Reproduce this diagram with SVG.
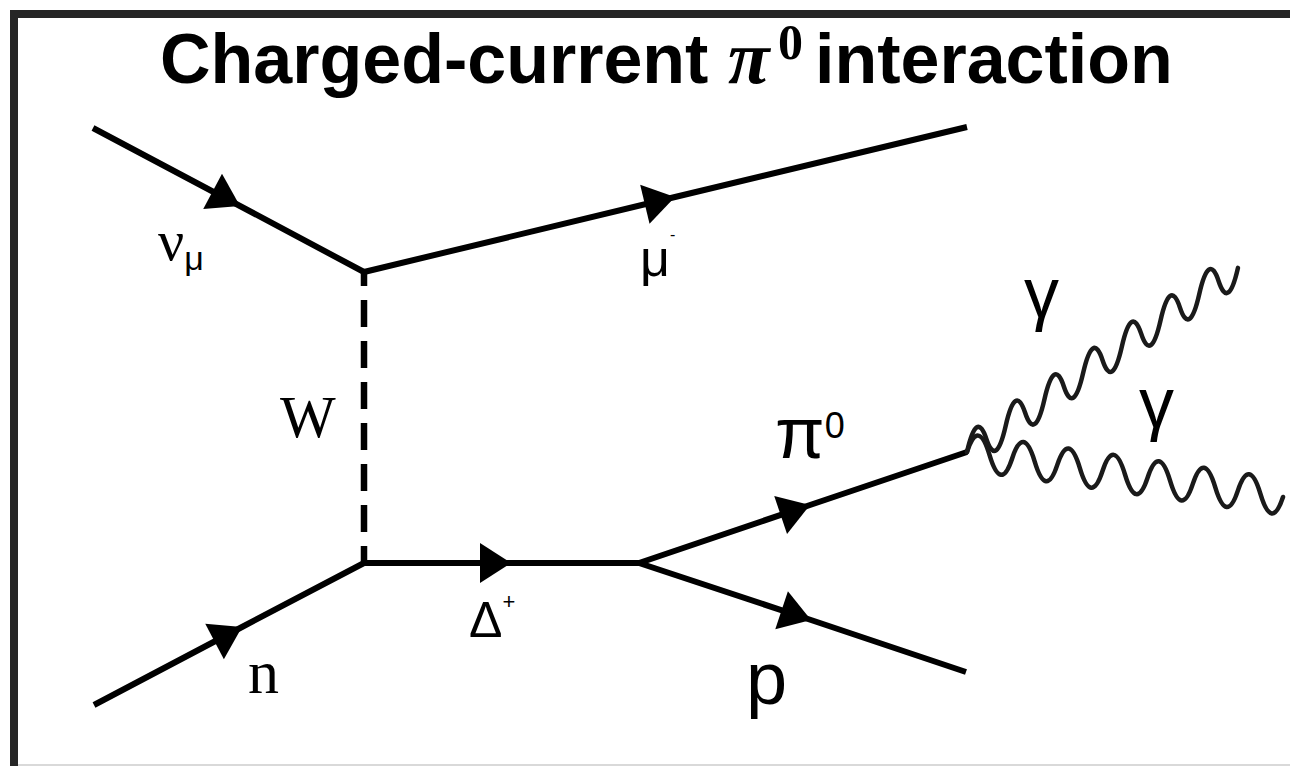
<svg xmlns="http://www.w3.org/2000/svg" width="1290" height="766" viewBox="0 0 1290 766">
<style>
.line{fill:none;stroke:#000;stroke-width:6;marker-mid:url(#arr)}
.dash{fill:none;stroke:#000;stroke-width:6.5;stroke-dasharray:27 14;stroke-dashoffset:13}
.photon{fill:none;stroke:#1a1a1a;stroke-width:4.5;stroke-linecap:round;stroke-linejoin:round}
.serif{font-family:"Liberation Serif","Times New Roman",serif;fill:#000}
.sans{font-family:"Liberation Sans",Arial,sans-serif;fill:#000}
.ttl{font-family:"Liberation Sans",Arial,sans-serif;font-weight:bold;font-size:70px;fill:#000}
</style>
<defs>
<marker id="arr" markerUnits="userSpaceOnUse" markerWidth="31" markerHeight="40" viewBox="0 0 31 40" refX="31" refY="20" orient="auto" overflow="visible">
<path d="M0,0 L31,20 L0,40 Z" fill="#000"/>
</marker>
</defs>
<rect width="1290" height="766" fill="#fff"/>
<g id="frame">
<rect x="10" y="10" width="1280" height="8" fill="#262626"/>
<rect x="10" y="10" width="8" height="756" fill="#262626"/>
<rect x="18" y="764" width="1272" height="2" fill="#d9d9d9"/>
</g>
<g id="title">
<text x="160" y="83" class="ttl">Charged-current</text>
<text x="728" y="83" class="serif" font-style="italic" font-weight="bold" font-size="76">π</text>
<text x="778" y="59" class="serif" font-weight="bold" font-size="50">0</text>
<text x="815" y="83" class="ttl">interaction</text>
</g>
<g id="connectors">
<path id="nu-line" class="line" d="M93,128 L240,206 L364,272"/>
<path id="mu-line" class="line" d="M364,272 L675,197 L967,127"/>
<path id="w-line" class="dash" d="M364,272 L364,563"/>
<path id="n-line" class="line" d="M94,705 L242,627 L364,563"/>
<path id="delta-line" class="line" d="M364,563 L511,563 L639,563"/>
<path id="pi-line" class="line" d="M639,563 L810,505 L967,452"/>
<path id="p-line" class="line" d="M639,563 L811,620 L966,672"/>
<path id="gamma1-line" class="photon" vector-effect="non-scaling-stroke" transform="matrix(0.827 -0.562 0 1 967 452)" d="M0,0 q11.7,-36 23.4,0 t23.4,0 t23.4,0 t23.4,0 t23.4,0 t23.4,0 t23.4,0 t23.4,0 t23.4,0 t23.4,0 t23.4,0 t23.4,0 t23.4,0 t23.4,0"/>
<path id="gamma2-line" class="photon" vector-effect="non-scaling-stroke" transform="matrix(0.990 0.141 0 1 967 452)" d="M0,0 q11.4,-36 22.8,0 t22.8,0 t22.8,0 t22.8,0 t22.8,0 t22.8,0 t22.8,0 t22.8,0 t22.8,0 t22.8,0 t22.8,0 t22.8,0 t22.8,0 t22.8,0"/>
</g>
<g id="nu-label"><text x="158" y="260" class="serif" font-size="58">ν<tspan class="sans" font-size="34" dy="10">μ</tspan></text></g>
<g id="mu-label"><text x="640" y="276" class="sans" font-size="52">μ<tspan font-size="16" dy="-36">-</tspan></text></g>
<g id="w-label"><text x="280" y="437" class="serif" font-size="59">W</text></g>
<g id="n-label"><text x="248" y="693" class="serif" font-size="62">n</text></g>
<g id="delta-label"><text x="469" y="637" class="sans" font-size="50">Δ<tspan font-size="22" dy="-28">+</tspan></text></g>
<g id="pi-label"><text x="775" y="458" class="sans" font-size="72">π<tspan font-size="36" dy="-20">0</tspan></text></g>
<g id="p-label"><text x="746" y="704" class="sans" font-size="74">p</text></g>
<g id="gamma1-label"><text x="1024" y="317" class="sans" font-size="70">γ</text></g>
<g id="gamma2-label"><text x="1139" y="427" class="sans" font-size="70">γ</text></g>
</svg>
